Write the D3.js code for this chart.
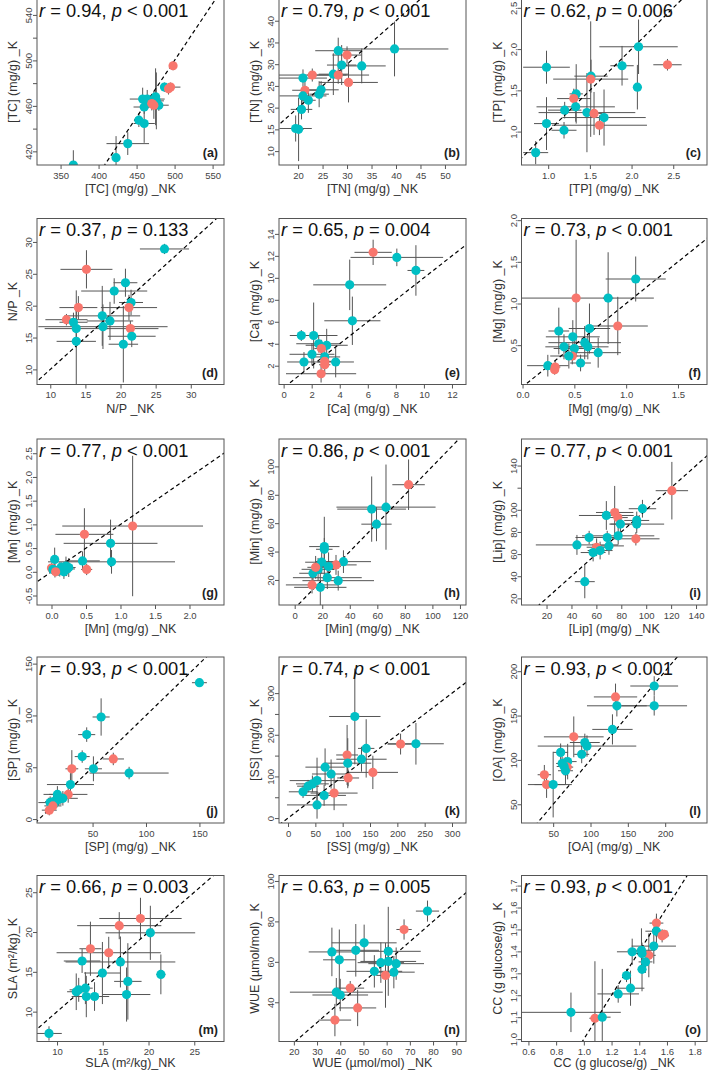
<!DOCTYPE html>
<html>
<head>
<meta charset="utf-8">
<script src="https://cdn.jsdelivr.net/npm/d3@7"></script>
<style>
body{margin:0;background:#fff;}
svg{font-family:"Liberation Sans",Arial,sans-serif;}
</style>
</head>
<body>
<div id="chart"></div>
<script>
// each point: [NK mean, NK error, K mean, K error, group]  group 0 = cyan, 1 = red
let tc=[[366.8,3,408,13,0],[423,4,414.4,19,0],[438.4,28,426.8,10,0],[453,4,447.4,6,0],[460,14,444.5,17,0],[460,14,459,6,0],[458,5,466,10,0],[464,23,466,8,0],[465,6,463,5,0],[475,5,468,25,0],[476,10,464.4,25,0],[479.3,13,460.6,5,0],[486.7,5,476.5,4,0],[472.7,5,460.6,12,1],[470,4,462,6,1],[494.7,13,476.5,4,1],[492,5,475,5,1],[498,4,495.3,4,1]];
let tn=[[39.7,11,33.5,6.3,0],[28.2,4.7,33.1,3,0],[30,3,32.1,2,1],[28.9,3,29.8,4.6,0],[33,4.9,29.6,4,0],[27.2,3,27.7,4.8,0],[22.9,7,27.5,1.5,1],[28.2,6.3,27.5,2,1],[21,4.9,26.8,2,0],[30.3,6,25.8,4.6,1],[21.4,2.6,24,2.5,1],[24.7,3.6,24.1,2,0],[24.3,2,23.1,3,0],[21,4.8,22.7,2,0],[22.1,1.5,21.7,2.9,0],[20.7,2.2,19.6,2.3,0],[19.5,3.3,15.2,3,0],[20.1,1,15,7.3,0]];
let tp=[[2.084,0.47,2.028,0.33,0],[1.886,0.14,1.798,0.24,0],[2.431,0.17,1.81,0.07,1],[0.98,0.28,1.78,0.2,0],[1.514,0.2,1.672,0.2,0],[1.51,0.45,1.636,0.7,1],[2.07,0.05,1.538,0.27,0],[1.336,0.08,1.457,0.36,0],[1.307,0.2,1.4,0.12,1],[1.33,0.47,1.3,0.18,0],[1.198,0.2,1.26,0.1,0],[1.465,0.58,1.23,0.48,0],[1.55,0.1,1.22,0.26,1],[1.67,0.5,1.17,0.34,0],[0.98,0.15,1.097,0.32,0],[1.615,0.57,1.077,0.12,1],[1.19,0.15,1.016,0.1,0],[0.85,0.15,0.745,0.14,0]];
let np=[[26.26,3.5,28.9,0.8,0],[15.15,3.7,25.7,3,1],[20.7,1.7,23.6,2.2,0],[19.1,4.7,22.3,2,0],[21.5,1.7,20.5,2,0],[14,2.7,19.7,1.8,1],[21.2,4,19.7,2,1],[17.4,5.4,18.4,4.7,0],[18.5,3.3,17.6,3,0],[12.3,3,17.8,0.9,1],[13.3,2,17.4,1.5,0],[13.7,4.5,16.4,3,0],[17.5,9.2,16.7,3.5,0],[21.4,4,16.4,1.2,1],[21.6,3.4,15.2,1.7,0],[13.7,2.8,14.4,8,0],[20.4,2.1,13.95,6,0]];
let ca=[[6.38,1.33,12.32,1.15,1],[8.07,3.3,11.86,0.8,0],[9.43,0.6,10.67,2.3,0],[4.71,2.6,9.36,2.3,0],[4.9,2,6.09,2.2,0],[1.26,0.7,4.75,0.5,0],[2.14,1.7,4.75,3,0],[2.5,1.6,4,0.8,0],[3.07,1.5,3.86,1.5,0],[2.69,0.5,3.56,0.8,1],[2.02,1.6,3.04,1,0],[2.93,1.1,2.8,0.7,0],[1.45,1.2,2.34,0.9,0],[3.71,1.3,2.34,1.4,0],[2.93,0.5,2.4,0.6,1],[2.93,0.4,2.09,0.8,1],[2.67,2.5,1.27,0.8,1]];
let mg=[[1.092,0.29,1.294,0.27,0],[0.826,0.05,1.065,0.55,0],[0.517,0.75,1.065,0.7,1],[0.919,0.29,0.73,0.35,1],[0.35,0.1,0.67,0.28,0],[0.646,0.2,0.7,0.3,0],[0.485,0.26,0.6,0.2,0],[0.4,0.18,0.48,0.15,0],[0.6,0.35,0.53,0.2,0],[0.63,0.2,0.48,0.15,0],[0.5,0.2,0.46,0.12,0],[0.73,0.22,0.41,0.18,0],[0.48,0.05,0.37,0.1,1],[0.447,0.18,0.37,0.15,0],[0.56,0.1,0.286,0.1,0],[0.244,0.2,0.254,0.13,0],[0.315,0.05,0.238,0.08,1],[0.31,0.04,0.206,0.06,1]];
let mn=[[1.176,1.02,0.965,1.48,1],[0.477,0.42,0.79,0.55,1],[0.856,0.68,0.6,0.5,0],[0.046,0.05,0.26,0.25,0],[0.45,0.25,0.23,0.2,0],[0.87,0.92,0.21,0.25,0],[0.51,0.08,0.05,0.12,1],[0,0.05,0.08,0.1,1],[0.21,0.1,0.12,0.2,0],[0.12,0.1,0.05,0.15,0],[0.05,0.08,0.03,0.15,0],[0.22,0.12,0.06,0.15,0],[0.1,0.06,0.02,0.1,0],[0.25,0.1,0.09,0.2,0],[0.18,0.1,0,0.15,0],[0.02,0.05,0.05,0.1,0],[0.14,0.08,0.1,0.1,0],[0.06,0.05,0,0.08,1]];
let minr=[[82.7,11.8,87.1,17.8,1],[66.3,36,71.3,30,0],[55.9,25,69.9,23,0],[59.4,11,59.3,12,0],[35.4,20,32.9,8,0],[30,15,30.6,7,1],[21.5,11,43.5,21,0],[21.5,6,41.6,8,0],[19.6,12,32.5,8,0],[24.6,9,29.4,10,0],[17,12,27.5,8,0],[13.3,10,24.7,6,0],[23.7,25,21.6,8,0],[31.6,26,19.5,7,0],[18.6,19,14.8,14,0],[15.2,6,28.9,8,1],[12.6,19,16.5,6,1]];
let lip=[[120.6,13,117.3,26,1],[97,11,101,8,0],[74.7,15,97.6,24,1],[77.2,8,93,8,1],[68,22,94.9,13,0],[92.4,10,90.4,8,0],[92.4,22,87.1,8,0],[79.3,8,87.1,8,0],[68.7,11,75,6,0],[77.5,29,76.5,8,0],[91.7,19,73.8,6,1],[54.2,11,75,6,0],[44.4,33,68.3,9,0],[70.1,12,67.4,8,0],[60.2,8,66.2,8,1],[63,10,63.2,8,0],[57.4,10,61.4,8,0],[50.7,8,35.1,15,0]];
let sp=[[150,7,131.6,4,0],[58,8,98.5,18,0],[44.5,8,81.5,7,0],[40.3,7,60.3,6,0],[69.4,10,58,6,1],[30.6,6,48.5,18,1],[50.8,8,48.5,12,0],[84.2,37,44.4,6,0],[29.3,22,33.3,11,0],[27.2,18,23.8,8,1],[17.1,13,23.8,8,0],[22.2,14,20,7,0],[18,8,19,6,0],[10.3,11,15.9,6,0],[13.6,8,16.8,6,0],[14,7,14.5,5,0],[12.9,8,12.7,5,1],[9.5,7,8.6,5,1]];
let ss=[[122.2,47,243.9,115,0],[205.9,24,177.6,25,1],[234,51,178.4,50,0],[143,15,167.3,70,0],[108.1,20,151.5,72,1],[134.4,46,141.3,30,0],[109.3,43,131.8,60,0],[67.8,36,122.3,45,0],[78.8,35,105.8,35,0],[155.2,46,109.7,40,1],[110,20,96.3,20,1],[53.1,50,90,55,0],[44.6,30,82.1,20,0],[36.7,20,76.6,15,0],[27.5,26,63.1,15,0],[66,40,54.5,25,0],[84.3,43,60,41,1],[53.1,55,31.6,33,0]];
let oa=[[185.3,32,183.3,11,0],[133.5,29,171,15,1],[135.3,40,161,12,0],[185.3,44,161,11,0],[129.4,27,134.4,17,0],[77.6,40,126,23,1],[92.4,20,119.6,10,0],[95.3,66,115.6,12,0],[88.2,10,106.3,10,0],[60,10,108.5,10,0],[69.4,12,98.1,20,0],[68.8,8,91.9,10,1],[64.7,10,92.6,10,0],[66.5,10,87.8,15,0],[38.2,9,83.3,11,1],[41.2,25,72.2,15,1],[50,25,72.2,37,0],[62,8,96,8,0]];
let sla=[[19.12,4.5,21.7,2.6,1],[16.8,4.6,20.8,1.7,1],[20.2,4.9,19.9,3.4,0],[13.65,1.2,17.9,3.4,1],[15.65,5.7,17.4,2,1],[12.74,2,16.36,1.5,0],[16.93,6,16.24,3.2,0],[21.35,0.5,14.68,2.5,0],[14.96,2,14.85,3.9,0],[17.74,1.5,13.8,4.8,0],[17.6,2.6,12.15,3.4,0],[12.1,1,12.5,2.3,0],[12.37,1,12.74,1.5,0],[13.1,0.8,12.95,2,0],[13.2,1.6,11.9,2.6,0],[14.1,1.6,11.9,1.8,0],[9.12,1.4,7.26,0.9,0]];
let wue=[[77.6,5,85.1,5.2,0],[67.5,3.3,76,5,1],[50.3,14,69.4,9,0],[46.7,10,65.7,13,0],[36.4,10,64.9,12,0],[60.7,14,65.2,22,0],[39.6,7,61,15,0],[60.7,12,60.2,8,0],[57.5,10,59.6,10,0],[64.1,12,59.1,8,0],[54.7,12,55.3,8,0],[63.1,9,54.9,8,0],[59.5,4,53.3,16,1],[44.3,6,47,3.5,1],[38.3,20,45,7,0],[40,12,43.6,8,0],[47.5,8,37.2,9,1],[37.7,7,31.2,8,1]];
let cc=[[1.524,0.05,1.529,0.03,1],[1.524,0.08,1.492,0.08,0],[1.565,0.05,1.471,0.03,1],[1.505,0.16,1.424,0.08,0],[1.469,0.05,1.382,0.1,1],[1.349,0.11,1.398,0.06,0],[1.416,0.1,1.405,0.1,0],[1.42,0.05,1.39,0.05,0],[1.445,0.05,1.352,0.05,0],[1.42,0.03,1.318,0.1,0],[1.308,0.03,1.29,0.03,0],[1.337,0.1,1.232,0.08,0],[1.248,0.15,1.206,0.04,0],[0.907,0.36,1.122,0.09,0],[1.08,0.04,1.095,0.26,1],[1.133,0.06,1.1,0.22,0],[1.58,0.03,1.478,0.02,1]];

let panelData=[tc,tn,tp,np,ca,mg,mn,minr,lip,sp,ss,oa,sla,wue,cc];
let letters=["a","b","c","d","e","f","g","h","i","j","k","l","m","n","o"];
let xNames=["[TC] (mg/g) _NK","[TN] (mg/g) _NK","[TP] (mg/g) _NK","N/P _NK","[Ca] (mg/g) _NK","[Mg] (mg/g) _NK","[Mn] (mg/g) _NK","[Min] (mg/g) _NK","[Lip] (mg/g) _NK","[SP] (mg/g) _NK","[SS] (mg/g) _NK","[OA] (mg/g) _NK","SLA (m\u00b2/kg)_NK","WUE (\u00b5mol/mol) _NK","CC (g glucose/g) _NK"];
let yNames=["[TC] (mg/g) _K","[TN] (mg/g) _K","[TP] (mg/g) _K","N/P _K","[Ca] (mg/g) _K","[Mg] (mg/g) _K","[Mn] (mg/g) _K","[Min] (mg/g) _K","[Lip] (mg/g) _K","[SP] (mg/g) _K","[SS] (mg/g) _K","[OA] (mg/g) _K","SLA (m\u00b2/kg)_K","WUE (\u00b5mol/mol) _K","CC (g glucose/g) _K"];
let rVals=["0.94","0.79","0.62","0.37","0.65","0.73","0.77","0.86","0.77","0.93","0.74","0.93","0.66","0.63","0.93"];
let pVals=["< 0.001","< 0.001","= 0.006","= 0.133","= 0.004","< 0.001","< 0.001","< 0.001","< 0.001","< 0.001","< 0.001","< 0.001","= 0.003","= 0.005","< 0.001"];
let xRanges=[[319,565],[16.1,54.3],[0.68,2.905],[8.11,34.73],[-0.33,13],[-0.01,1.78],[-0.21,2.5],[-11.4,124.4],[-0.1,148.8],[-2,173],[-16.5,325.6],[7.6,256],[7.81,28.25],[13.6,94.2],[0.55,1.889]];
let yRanges=[[408,554],[6.8,45],[0.595,2.607],[7.63,33.68],[0.29,15.4],[0.028,2.02],[-0.7,2.8],[2.35,119.3],[14,164],[-3.8,156.4],[-11.8,386.7],[28.9,216],[6.25,27.1],[20.6,102.7],[0.989,1.746]];
let xTicks=[[350,400,450,500,550],[20,25,30,35,40,45,50],[1,1.5,2,2.5],[10,15,20,25,30],[0,2,4,6,8,10,12],[0,0.5,1,1.5],[0,0.5,1,1.5,2],[0,20,40,60,80,100,120],[20,40,60,80,100,120,140],[50,100,150],[0,50,100,150,200,250,300],[50,100,150,200],[10,15,20,25],[20,30,40,50,60,70,80,90],[0.6,0.8,1,1.2,1.4,1.6,1.8]];
let yTicks=[[420,440,460,480,500,520,540],[10,15,20,25,30,35,40],[1,1.5,2,2.5],[10,15,20,25,30],[2,4,6,8,10,12,14],[0.5,1,1.5,2],[-0.5,0,0.5,1,1.5,2,2.5],[20,40,60,80,100],[20,40,60,80,100,120,140],[0,50,100,150],[0,50,100,150,200,250,300],[50,100,150,200],[10,15,20,25],[40,60,80,100],[1,1.1,1.2,1.3,1.4,1.5,1.6,1.7]];
let yShown=[[420,460,500,540],null,null,null,null,null,null,null,[20,40,60,80,100,140],null,[0,100,200,300],null,null,null,null];
let decimals=[0,0,1,0,0,1,1,0,0,0,0,0,0,0,1];

let width=709, height=1072;
let colors=["#00BFC4","#F8766D"];
let colX=[[37,224],[279,466],[521.5,707]];
let rowTop=[-1,218.5,439,657,875.5];
let boxH=166;

let svg=d3.select("#chart").append("svg")
    .attr("width",width)
    .attr("height",height);

panelData.forEach(function(data,i){
    let col=i%3, row=Math.floor(i/3);
    let x0=colX[col][0], x1=colX[col][1];
    let y0=rowTop[row], y1=y0+boxH;
    let x=d3.scaleLinear().domain(xRanges[i]).range([x0,x1]);
    let y=d3.scaleLinear().domain(yRanges[i]).range([y1,y0]);
    let fmt=function(v){ return v.toFixed(decimals[i]); };

    svg.append("clipPath").attr("id","clip"+i)
        .append("rect").attr("x",x0).attr("y",y0).attr("width",x1-x0).attr("height",y1-y0);
    let g=svg.append("g");
    let plot=g.append("g").attr("clip-path","url(#clip"+i+")");

    // error bars
    plot.selectAll(".eh").data(data).enter().append("line")
        .attr("x1",d=>x(d[0]-d[1])).attr("x2",d=>x(d[0]+d[1]))
        .attr("y1",d=>y(d[2])).attr("y2",d=>y(d[2]))
        .attr("stroke","#555").attr("stroke-width",1);
    plot.selectAll(".ev").data(data).enter().append("line")
        .attr("x1",d=>x(d[0])).attr("x2",d=>x(d[0]))
        .attr("y1",d=>y(d[2]-d[3])).attr("y2",d=>y(d[2]+d[3]))
        .attr("stroke","#555").attr("stroke-width",1);

    // 1:1 line
    let lo=Math.min(xRanges[i][0],yRanges[i][0]), hi=Math.max(xRanges[i][1],yRanges[i][1]);
    plot.append("line")
        .attr("x1",x(lo)).attr("y1",y(lo)).attr("x2",x(hi)).attr("y2",y(hi))
        .attr("stroke","#000").attr("stroke-width",1.2).attr("stroke-dasharray","4,3");

    plot.selectAll("circle").data(data).enter().append("circle")
        .attr("cx",d=>x(d[0])).attr("cy",d=>y(d[2])).attr("r",4.6)
        .attr("fill",d=>colors[d[4]]);

    g.append("rect").attr("x",x0).attr("y",y0).attr("width",x1-x0).attr("height",y1-y0)
        .attr("fill","none").attr("stroke","#555").attr("stroke-width",1);

    // axes
    let ax=g.append("g").attr("transform","translate(0,"+y1+")")
        .call(d3.axisBottom(x).tickValues(xTicks[i]).tickSize(4).tickPadding(3).tickFormat(fmt));
    ax.select(".domain").remove();
    ax.selectAll("line").attr("stroke","#555");
    ax.selectAll("text").attr("font-size",9.5).attr("fill","#444");

    let shown=yShown[i];
    let ay=g.append("g").attr("transform","translate("+x0+",0)")
        .call(d3.axisLeft(y).tickValues(yTicks[i]).tickSize(4)
            .tickFormat(v=>(shown && shown.indexOf(v)<0)?"":fmt(v)));
    ay.select(".domain").remove();
    ay.selectAll("line").attr("stroke","#555");
    ay.selectAll("text").attr("font-size",9.5).attr("fill","#444")
        .attr("text-anchor","middle").attr("x",0).attr("y",-5).attr("dy",null)
        .attr("transform","rotate(-90)");

    g.append("text").attr("x",(x0+x1)/2).attr("y",Math.min(y1+28,1067))
        .attr("text-anchor","middle").attr("font-size",12.5).attr("fill","#333")
        .text(xNames[i]);
    g.append("text").attr("transform","translate("+(x0-20)+","+((y0+y1)/2)+") rotate(-90)")
        .attr("text-anchor","middle").attr("font-size",12.5).attr("fill","#333")
        .text(yNames[i]);

    // r, p text
    let t=g.append("text").attr("x",x0+2).attr("y",y0+17.5).attr("font-size",18.3).attr("fill","#111");
    t.append("tspan").attr("font-style","italic").text("r");
    t.append("tspan").text(" = "+rVals[i]+", ");
    t.append("tspan").attr("font-style","italic").text("p");
    t.append("tspan").text(" "+pVals[i]);

    g.append("text").attr("x",x1-6).attr("y",y1-8).attr("text-anchor","end")
        .attr("font-size",12.5).attr("font-weight","bold").attr("fill","#222")
        .text("("+letters[i]+")");
});
</script>
</body>
</html>
